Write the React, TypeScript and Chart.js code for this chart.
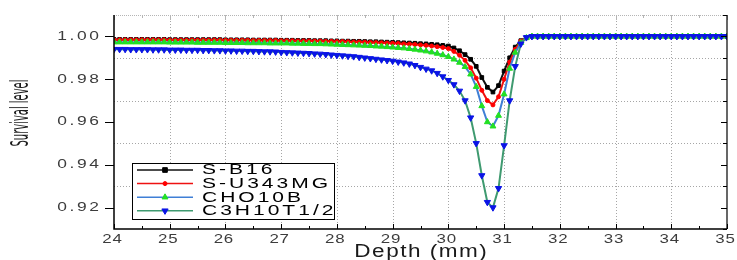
import React, { useEffect, useRef } from 'react';
import { Chart, registerables } from 'chart.js';

Chart.register(...registerables);

// Depth sampling (mm)
const DEPTHS = [
  24.0, 24.1, 24.2, 24.3, 24.4, 24.5, 24.6, 24.7, 24.8, 24.9,
  25.0, 25.1, 25.2, 25.3, 25.4, 25.5, 25.6, 25.7, 25.8, 25.9,
  26.0, 26.1, 26.2, 26.3, 26.4, 26.5, 26.6, 26.7, 26.8, 26.9,
  27.0, 27.1, 27.2, 27.3, 27.4, 27.5, 27.6, 27.7, 27.8, 27.9,
  28.0, 28.1, 28.2, 28.3, 28.4, 28.5, 28.6, 28.7, 28.8, 28.9,
  29.0, 29.1, 29.2, 29.3, 29.4, 29.5, 29.6, 29.7, 29.8, 29.9,
  30.0, 30.1, 30.2, 30.3, 30.4, 30.5, 30.6, 30.7, 30.8, 30.9,
  31.0, 31.1, 31.2, 31.3, 31.4, 31.5, 31.6, 31.7, 31.8, 31.9,
  32.0, 32.1, 32.2, 32.3, 32.4, 32.5, 32.6, 32.7, 32.8, 32.9,
  33.0, 33.1, 33.2, 33.3, 33.4, 33.5, 33.6, 33.7, 33.8, 33.9,
  34.0, 34.1, 34.2, 34.3, 34.4, 34.5, 34.6, 34.7, 34.8, 34.9,
  35.0,
];

const S_B16 = [
  0.9986, 0.9986, 0.9986, 0.9986, 0.9986, 0.9986, 0.9986, 0.9986, 0.9986, 0.9986,
  0.9985, 0.9985, 0.9985, 0.9985, 0.9985, 0.9985, 0.9985, 0.9985, 0.9985, 0.9985,
  0.9984, 0.9984, 0.9984, 0.9984, 0.9984, 0.9983, 0.9983, 0.9983, 0.9983, 0.9983,
  0.9982, 0.9982, 0.9982, 0.9981, 0.9981, 0.9981, 0.9980, 0.9980, 0.9980, 0.9979,
  0.9979, 0.9978, 0.9978, 0.9977, 0.9977, 0.9976, 0.9975, 0.9975, 0.9974, 0.9973,
  0.9972, 0.9971, 0.9970, 0.9969, 0.9968, 0.9966, 0.9965, 0.9963, 0.9961, 0.9958,
  0.9955, 0.9946, 0.9933, 0.9915, 0.9893, 0.9860, 0.9808, 0.9762, 0.9740, 0.9770,
  0.9838, 0.9900, 0.9950, 0.9980, 0.9995, 1.0000, 1.0000, 1.0000, 1.0000, 1.0000,
  1.0000, 1.0000, 1.0000, 1.0000, 1.0000, 1.0000, 1.0000, 1.0000, 1.0000, 1.0000,
  1.0000, 1.0000, 1.0000, 1.0000, 1.0000, 1.0000, 1.0000, 1.0000, 1.0000, 1.0000,
  1.0000, 1.0000, 1.0000, 1.0000, 1.0000, 1.0000, 1.0000, 1.0000, 1.0000, 1.0000,
  1.0000,
];

const S_U343MG = [
  0.9984, 0.9984, 0.9984, 0.9984, 0.9984, 0.9984, 0.9984, 0.9984, 0.9984, 0.9984,
  0.9983, 0.9983, 0.9983, 0.9983, 0.9983, 0.9983, 0.9983, 0.9983, 0.9983, 0.9983,
  0.9982, 0.9982, 0.9982, 0.9982, 0.9982, 0.9981, 0.9981, 0.9981, 0.9981, 0.9981,
  0.9980, 0.9980, 0.9980, 0.9979, 0.9979, 0.9979, 0.9978, 0.9978, 0.9977, 0.9977,
  0.9976, 0.9976, 0.9975, 0.9974, 0.9974, 0.9973, 0.9972, 0.9971, 0.9970, 0.9969,
  0.9968, 0.9967, 0.9965, 0.9964, 0.9962, 0.9960, 0.9958, 0.9955, 0.9952, 0.9948,
  0.9943, 0.9930, 0.9912, 0.9888, 0.9853, 0.9805, 0.9748, 0.9700, 0.9680, 0.9718,
  0.9800, 0.9880, 0.9940, 0.9978, 0.9994, 1.0000, 1.0000, 1.0000, 1.0000, 1.0000,
  1.0000, 1.0000, 1.0000, 1.0000, 1.0000, 1.0000, 1.0000, 1.0000, 1.0000, 1.0000,
  1.0000, 1.0000, 1.0000, 1.0000, 1.0000, 1.0000, 1.0000, 1.0000, 1.0000, 1.0000,
  1.0000, 1.0000, 1.0000, 1.0000, 1.0000, 1.0000, 1.0000, 1.0000, 1.0000, 1.0000,
  1.0000,
];

const CHO10B = [
  0.9973, 0.9973, 0.9973, 0.9973, 0.9973, 0.9973, 0.9973, 0.9973, 0.9973, 0.9973,
  0.9972, 0.9972, 0.9972, 0.9972, 0.9972, 0.9971, 0.9971, 0.9971, 0.9971, 0.9971,
  0.9970, 0.9970, 0.9970, 0.9970, 0.9969, 0.9969, 0.9969, 0.9969, 0.9968, 0.9968,
  0.9968, 0.9968, 0.9967, 0.9967, 0.9966, 0.9966, 0.9965, 0.9965, 0.9964, 0.9963,
  0.9962, 0.9961, 0.9960, 0.9959, 0.9958, 0.9957, 0.9956, 0.9954, 0.9953, 0.9951,
  0.9949, 0.9947, 0.9945, 0.9942, 0.9939, 0.9935, 0.9931, 0.9926, 0.9920, 0.9913,
  0.9905, 0.9893, 0.9878, 0.9858, 0.9823, 0.9765, 0.9675, 0.9600, 0.9580, 0.9630,
  0.9730, 0.9850, 0.9925, 0.9970, 0.9993, 1.0000, 1.0000, 1.0000, 1.0000, 1.0000,
  1.0000, 1.0000, 1.0000, 1.0000, 1.0000, 1.0000, 1.0000, 1.0000, 1.0000, 1.0000,
  1.0000, 1.0000, 1.0000, 1.0000, 1.0000, 1.0000, 1.0000, 1.0000, 1.0000, 1.0000,
  1.0000, 1.0000, 1.0000, 1.0000, 1.0000, 1.0000, 1.0000, 1.0000, 1.0000, 1.0000,
  1.0000,
];

const C3H10T1_2 = [
  0.9940, 0.9940, 0.9940, 0.9939, 0.9939, 0.9939, 0.9939, 0.9938, 0.9938, 0.9938,
  0.9937, 0.9937, 0.9937, 0.9936, 0.9936, 0.9936, 0.9935, 0.9935, 0.9934, 0.9934,
  0.9933, 0.9933, 0.9932, 0.9932, 0.9931, 0.9931, 0.9930, 0.9929, 0.9929, 0.9928,
  0.9926, 0.9925, 0.9924, 0.9923, 0.9922, 0.9921, 0.9919, 0.9918, 0.9916, 0.9914,
  0.9912, 0.9910, 0.9908, 0.9906, 0.9903, 0.9900, 0.9897, 0.9894, 0.9891, 0.9888,
  0.9885, 0.9881, 0.9877, 0.9872, 0.9865, 0.9856, 0.9848, 0.9840, 0.9828, 0.9812,
  0.9795, 0.9775, 0.9745, 0.9700, 0.9620, 0.9500, 0.9350, 0.9225, 0.9200, 0.9290,
  0.9490, 0.9700, 0.9860, 0.9965, 0.9995, 1.0000, 1.0000, 1.0000, 1.0000, 1.0000,
  1.0000, 1.0000, 1.0000, 1.0000, 1.0000, 1.0000, 1.0000, 1.0000, 1.0000, 1.0000,
  1.0000, 1.0000, 1.0000, 1.0000, 1.0000, 1.0000, 1.0000, 1.0000, 1.0000, 1.0000,
  1.0000, 1.0000, 1.0000, 1.0000, 1.0000, 1.0000, 1.0000, 1.0000, 1.0000, 1.0000,
  1.0000,
];

const SERIES_NAMES = ['S-B16', 'S-U343MG', 'CHO10B', 'C3H10T1/2'];

const X_TICKS = [24, 25, 26, 27, 28, 29, 30, 31, 32, 33, 34, 35];
const X_TICK_LABELS = ['24', '25', '26', '27', '28', '29', '30', '31', '32', '33', '34', '35'];
const X_MINOR = [24.5, 25.5, 26.5, 27.5, 28.5, 29.5, 30.5, 31.5, 32.5, 33.5, 34.5];
const Y_TICKS = [0.92, 0.94, 0.96, 0.98, 1.0];
const Y_TICK_LABELS = ['0.92', '0.94', '0.96', '0.98', '1.00'];
const Y_MINOR = [0.91, 0.93, 0.95, 0.97, 0.99, 1.01];
const X_TITLE = 'Depth (mm)';
const Y_TITLE = 'Survival level';

const STYLES = [
  { line: '#111111', point: '#000000', style: 'rect', radius: 2.6, rotation: 0, order: 3 },
  { line: '#ee1111', point: '#ff0000', style: 'circle', radius: 2.0, rotation: 0, order: 2 },
  { line: '#3f7fd6', point: '#22e022', style: 'triangle', radius: 3.4, rotation: 0, order: 1 },
  { line: '#3f9a70', point: '#0a14e6', style: 'triangle', radius: 3.6, rotation: 180, order: 0 },
];

const SANS = "'Liberation Sans', Arial, sans-serif";
const NARROW = "'Liberation Sans Narrow', 'DejaVu Sans Condensed', 'Liberation Sans', sans-serif";

// draws text char by char with horizontal stretch sx and extra spacing (in output px)
function drawSpaced(ctx: CanvasRenderingContext2D, text: string, x: number, y: number, align: string, sx: number, spacing: number) {
  ctx.save();
  const chars = Array.from(text);
  const widths = chars.map((c) => ctx.measureText(c).width * sx);
  const total = widths.reduce((s, w) => s + w, 0) + spacing * (chars.length - 1);
  let cur = x;
  if (align === 'center') cur = x - total / 2;
  else if (align === 'right') cur = x - total;
  ctx.textAlign = 'left';
  chars.forEach((c, i) => {
    ctx.save();
    ctx.translate(cur, y);
    ctx.scale(sx, 1);
    ctx.fillText(c, 0, 0);
    ctx.restore();
    cur += widths[i] + spacing;
  });
  ctx.restore();
}

function drawMarker(ctx: CanvasRenderingContext2D, st: any, x: number, y: number) {
  ctx.save();
  ctx.fillStyle = st.point;
  ctx.strokeStyle = st.point;
  ctx.lineWidth = 1;
  const r = st.radius;
  ctx.translate(x, y);
  ctx.rotate((st.rotation * Math.PI) / 180);
  ctx.beginPath();
  if (st.style === 'rect') {
    ctx.rect(-r * 0.9, -r * 0.9, r * 1.8, r * 1.8);
  } else if (st.style === 'circle') {
    ctx.arc(0, 0, r, 0, Math.PI * 2);
  } else {
    const h = r * 1.5;
    ctx.moveTo(0, -h * 0.66);
    ctx.lineTo(h * 0.58, h * 0.34);
    ctx.lineTo(-h * 0.58, h * 0.34);
    ctx.closePath();
  }
  ctx.fill();
  ctx.stroke();
  ctx.restore();
}

const framePlugin = {
  id: 'originFrame',
  beforeDatasetsDraw(chart: any) {
    const { ctx, chartArea: a, scales } = chart;
    const x = scales.x;
    const y = scales.y;
    ctx.save();
    ctx.strokeStyle = '#a6a6a6';
    ctx.lineWidth = 1;
    ctx.setLineDash([1, 2]);
    X_TICKS.forEach((v) => {
      if (v <= x.min || v >= x.max) return;
      const px = Math.round(x.getPixelForValue(v)) + 0.5;
      ctx.beginPath();
      ctx.moveTo(px, a.top);
      ctx.lineTo(px, a.bottom);
      ctx.stroke();
    });
    Y_MINOR.forEach((v) => {
      if (v <= y.min || v >= y.max) return;
      const py = Math.round(y.getPixelForValue(v)) + 0.5;
      ctx.beginPath();
      ctx.moveTo(a.left, py);
      ctx.lineTo(a.right, py);
      ctx.stroke();
    });
    ctx.restore();
  },
  afterDraw(chart: any) {
    const { ctx, chartArea: a, scales } = chart;
    const x = scales.x;
    const y = scales.y;
    ctx.save();

    // top border (light, dotted) with inward ticks
    ctx.strokeStyle = '#b5b5b5';
    ctx.lineWidth = 1;
    ctx.setLineDash([1, 1]);
    ctx.beginPath();
    ctx.moveTo(a.left, a.top + 0.5);
    ctx.lineTo(a.right, a.top + 0.5);
    ctx.stroke();
    ctx.setLineDash([]);
    [...X_TICKS, ...X_MINOR].forEach((v) => {
      const px = Math.round(x.getPixelForValue(v)) + 0.5;
      const len = X_TICKS.includes(v) ? 5 : 3;
      ctx.beginPath();
      ctx.moveTo(px, a.top);
      ctx.lineTo(px, a.top + len);
      ctx.stroke();
    });

    // axis lines
    ctx.strokeStyle = '#000';
    ctx.lineWidth = 1.5;
    ctx.beginPath();
    ctx.moveTo(a.left, a.top);
    ctx.lineTo(a.left, a.bottom);
    ctx.lineTo(a.right, a.bottom);
    ctx.stroke();
    ctx.lineWidth = 1.2;
    ctx.beginPath();
    ctx.moveTo(a.right, a.top);
    ctx.lineTo(a.right, a.bottom);
    ctx.stroke();

    // left ticks (outward, major)
    ctx.lineWidth = 1;
    Y_TICKS.forEach((v) => {
      const py = Math.round(y.getPixelForValue(v)) + 0.5;
      ctx.beginPath();
      ctx.moveTo(a.left - 9, py);
      ctx.lineTo(a.left, py);
      ctx.stroke();
    });
    // right ticks (inward)
    [...Y_TICKS, ...Y_MINOR].forEach((v) => {
      const py = Math.round(y.getPixelForValue(v)) + 0.5;
      const len = Y_TICKS.includes(v) ? 6 : 4;
      ctx.beginPath();
      ctx.moveTo(a.right - len, py);
      ctx.lineTo(a.right, py);
      ctx.stroke();
    });
    // bottom ticks (inward)
    [...X_TICKS, ...X_MINOR].forEach((v) => {
      const px = Math.round(x.getPixelForValue(v)) + 0.5;
      const len = X_TICKS.includes(v) ? 5 : 3;
      ctx.beginPath();
      ctx.moveTo(px, a.bottom - len);
      ctx.lineTo(px, a.bottom);
      ctx.stroke();
    });

    // tick labels
    ctx.fillStyle = '#3c3c3c';
    ctx.textBaseline = 'middle';
    ctx.font = `12px ${SANS}`;
    Y_TICKS.forEach((v, i) => {
      drawSpaced(ctx, Y_TICK_LABELS[i], a.left - 15, y.getPixelForValue(v), 'right', 1.45, 2.6);
    });
    ctx.font = `13px ${SANS}`;
    X_TICKS.forEach((v, i) => {
      drawSpaced(ctx, X_TICK_LABELS[i], x.getPixelForValue(v) - 2, a.bottom + 10, 'center', 1.3, 0.8);
    });

    // axis titles
    ctx.fillStyle = '#1a1a1a';
    ctx.font = `18px ${SANS}`;
    drawSpaced(ctx, X_TITLE, (a.left + a.right) / 2, a.bottom + 23, 'center', 1.25, 1.5);

    ctx.font = `24px ${NARROW}`;
    ctx.textBaseline = 'alphabetic';
    const tw = ctx.measureText(Y_TITLE).width;
    const target = 67;
    ctx.save();
    ctx.translate(28, (a.top + a.bottom) / 2 - 9);
    ctx.rotate(-Math.PI / 2);
    ctx.scale(target / tw, 1);
    ctx.textAlign = 'center';
    ctx.fillText(Y_TITLE, 0, 0);
    ctx.restore();

    // legend
    const lx = 132, ly = 163, lw = 202, lh = 56;
    ctx.fillStyle = '#ffffff';
    ctx.fillRect(lx, ly, lw, lh);
    ctx.strokeStyle = '#000';
    ctx.lineWidth = 1;
    ctx.strokeRect(lx + 0.5, ly + 0.5, lw, lh);
    const rowH = 13.6;
    SERIES_NAMES.forEach((name, i) => {
      const st = STYLES[i];
      const ry = ly + 7 + rowH * i;
      ctx.strokeStyle = st.line;
      ctx.lineWidth = 1.5;
      ctx.beginPath();
      ctx.moveTo(lx + 5, ry);
      ctx.lineTo(lx + 61, ry);
      ctx.stroke();
      drawMarker(ctx, st, lx + 33, ry);
      ctx.fillStyle = '#000';
      ctx.font = `14px ${SANS}`;
      ctx.textBaseline = 'middle';
      drawSpaced(ctx, name, lx + 70, ry + 0.5, 'left', 1.5, 3);
    });

    ctx.restore();
  },
};

export default function App() {
  const ref = useRef<HTMLCanvasElement | null>(null);

  useEffect(() => {
    document.body.style.margin = '0';
    const canvas = ref.current;
    if (!canvas) return;
    const allSeries = [S_B16, S_U343MG, CHO10B, C3H10T1_2];
    const chart = new Chart(canvas, {
      type: 'line',
      data: {
        datasets: allSeries.map((vals, i) => ({
          label: SERIES_NAMES[i],
          data: DEPTHS.map((d, j) => ({ x: d, y: vals[j] })),
          borderColor: STYLES[i].line,
          borderWidth: 2,
          backgroundColor: STYLES[i].point,
          pointStyle: STYLES[i].style as any,
          pointRadius: STYLES[i].radius,
          pointRotation: STYLES[i].rotation,
          pointBackgroundColor: STYLES[i].point,
          pointBorderColor: STYLES[i].point,
          pointBorderWidth: 1,
          tension: 0,
          order: STYLES[i].order,
          fill: false,
        })),
      },
      options: {
        responsive: false,
        animation: false,
        devicePixelRatio: 1,
        layout: { padding: { top: 15, right: 10, left: 0, bottom: 0 } },
        plugins: { legend: { display: false }, tooltip: { enabled: false } },
        scales: {
          x: {
            type: 'linear',
            min: 24,
            max: 35,
            ticks: { display: false, stepSize: 1 },
            grid: { display: false },
            border: { display: false },
            afterFit: (s: any) => { s.height = 31; },
          },
          y: {
            type: 'linear',
            min: 0.91,
            max: 1.01,
            ticks: { display: false, stepSize: 0.01 },
            grid: { display: false },
            border: { display: false },
            afterFit: (s: any) => { s.width = 114; },
          },
        },
      },
      plugins: [framePlugin],
    });
    return () => chart.destroy();
  }, []);

  return (
    <div style={{ width: 737, height: 260, background: '#fff' }}>
      <canvas ref={ref} width={737} height={260} style={{ display: 'block' }} />
    </div>
  );
}
